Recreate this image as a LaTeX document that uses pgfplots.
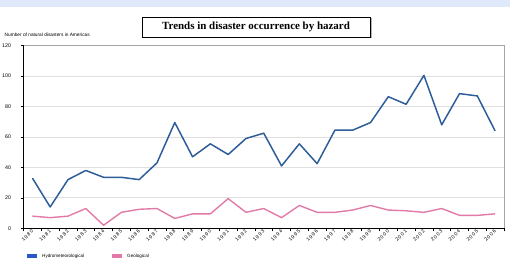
\documentclass[border=0pt]{standalone}
\usepackage{fontspec}
\setmainfont{Liberation Serif}
\newfontfamily\arial{Liberation Sans}
\usepackage{pgfplots}
\pgfplotsset{compat=1.18}
\usepackage{pgfplotstable}
\definecolor{hydro}{RGB}{46,94,154}
\definecolor{geo}{RGB}{226,122,168}
\definecolor{band}{RGB}{223,233,250}
\definecolor{legblue}{RGB}{40,90,200}
\newcommand\spyr[4]{#1\kern1pt#2\kern1pt#3\kern1pt#4}
\pgfplotstableread{
year hydro geo
1980 33 8
1981 14 7
1982 32 8
1983 38 13
1984 33.5 2
1985 33.5 10.5
1986 32 12.5
1987 43 13
1988 69.5 6.5
1989 47 9.5
1990 55.5 9.5
1991 48.5 19.5
1992 59 10.5
1993 62.5 13
1994 41 7
1995 55.5 15
1996 42.5 10.5
1997 64.5 10.5
1998 64.5 12
1999 69.5 15
2000 86.5 12
2001 81.5 11.5
2002 100.5 10.5
2003 68 13
2004 88.5 8.5
2005 87 8.5
2006 64 9.5
}\datatable
\begin{document}
\begin{tikzpicture}
\path[use as bounding box] (0,0) rectangle (510bp,258bp);
\fill[band] (0,250.5bp) rectangle (510bp,258bp);
\fill[gray!60] (144bp,219.5bp) rectangle (371.5bp,240bp);
\node[draw=black, fill=white, line width=0.9pt, minimum width=228bp, minimum height=20bp, inner sep=0pt, font=\fontsize{11}{13}\selectfont\bfseries] at (256bp,231bp) {Trends in disaster occurrence by hazard};
\node[anchor=west, inner sep=0pt, font=\arial\fontsize{4.8}{5}\selectfont] at (4.5bp,223bp) {Number of natural disasters in Americas};
\begin{axis}[
  at={(23.5bp,29.7bp)}, anchor=south west,
  scale only axis, width=480.5bp, height=182.6bp,
  xmin=1979.5, xmax=2006.5, ymin=0, ymax=120,
  axis x line*=bottom, axis y line*=left,
  axis line style={black, line width=0.6pt},
  xtick={1980,...,2006},
  xticklabels={\spyr1980,\spyr1981,\spyr1982,\spyr1983,\spyr1984,\spyr1985,\spyr1986,\spyr1987,\spyr1988,\spyr1989,\spyr1990,\spyr1991,\spyr1992,\spyr1993,\spyr1994,\spyr1995,\spyr1996,\spyr1997,\spyr1998,\spyr1999,\spyr2000,\spyr2001,\spyr2002,\spyr2003,\spyr2004,\spyr2005,\spyr2006},
  major x tick style={draw=none},
  minor xtick={1979.5,1980.5,...,2006.5},
  minor x tick style={black, line width=0.5pt},
  minor tick length=3bp,
  ytick={0,20,...,120},
  major y tick style={black, line width=0.5pt},
  major tick length=3bp,
  tick align=outside,
  ymajorgrids, grid style={gray!25, line width=0.8pt},
  /pgf/number format/.cd, 1000 sep={}, assume math mode=true,
  /pgfplots/.cd,
  yticklabel style={font=\arial\fontsize{5.3}{6}\selectfont, xshift=-6bp},
  xticklabel style={font=\arial\fontsize{5}{6}\selectfont, rotate=45, anchor=east, xshift=4bp, yshift=0.5bp},
  clip=false,
]
\draw[gray!70, line width=0.6pt] (rel axis cs:0,1) -- (rel axis cs:1,1) -- (rel axis cs:1,0);
\addplot[hydro, line width=1.5pt, line join=round] table[x=year, y=hydro] {\datatable};
\addplot[geo, line width=1.4pt, line join=round] table[x=year, y=geo] {\datatable};
\end{axis}
\fill[legblue] (27bp,0) rectangle (37bp,3.5bp);
\node[anchor=base west, inner sep=0pt, font=\arial\fontsize{4.6}{5}\selectfont] at (42bp,0.8bp) {Hydrometeorological};
\fill[geo] (112bp,0) rectangle (122bp,3.5bp);
\node[anchor=base west, inner sep=0pt, font=\arial\fontsize{4.6}{5}\selectfont] at (127bp,0.8bp) {Geological};
\end{tikzpicture}
\end{document}
